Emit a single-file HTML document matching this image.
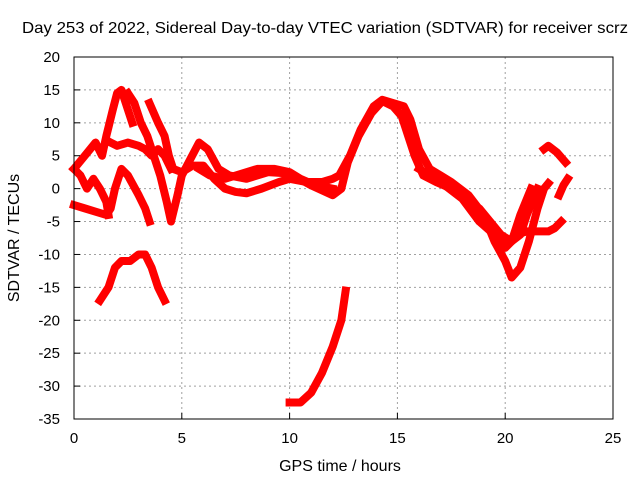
<!DOCTYPE html>
<html><head><meta charset="utf-8"><style>
body{margin:0;background:#fff;}
svg{display:block;font-family:"Liberation Sans",sans-serif;}
</style></head><body>
<svg id="chart" width="640" height="480" viewBox="0 0 640 480">
<text x="325" y="33" text-anchor="middle" font-size="16" textLength="606" lengthAdjust="spacingAndGlyphs">Day 253 of 2022, Sidereal Day-to-day VTEC variation (SDTVAR) for receiver scrz</text>
<text x="340" y="471" text-anchor="middle" font-size="16">GPS time / hours</text>
<text transform="translate(19,238) rotate(-90)" text-anchor="middle" font-size="16">SDTVAR / TECUs</text>
<g id="grid"></g>
<g id="series"></g>
<g id="axes"></g>
</svg>
<script>
const xTicks=[0,5,10,15,20,25];
const yTicks=[20,15,10,5,0,-5,-10,-15,-20,-25,-30,-35];
const s1=[[0,3],[0.5,5],[1,7],[1.3,5],[1.5,8],[1.8,12],[2.0,14.5],[2.2,15],[2.5,12],[2.7,10]];
const s2=[[2.5,14.5],[2.8,13],[3.1,10],[3.4,8],[3.7,5],[4.0,2],[4.3,-2],[4.5,-5],[4.8,-1],[5,2],[5.4,4.5],[5.8,7],[6.2,6],[6.7,3],[7.2,2],[8,1.5],[9,2.5],[10,2.3],[11,0.5],[12,-1],[12.4,0],[12.7,4],[13.2,8],[13.8,11.5],[14.3,13.3],[14.8,12.5],[15.2,11],[15.5,8],[15.8,5],[16.2,2],[16.8,1],[17.5,0],[18.2,-2],[18.8,-3],[19.3,-5],[19.8,-7],[20.3,-8],[20.7,-7],[21,-4],[21.5,0]];
const s3=[[3.5,13],[3.9,10],[4.2,8],[4.4,5],[4.6,3],[5,2.5],[5.5,3.5],[6,3.5],[6.5,1.5],[7,0],[7.5,-0.5],[8,-0.7],[8.7,0],[9.5,1],[10,1.5],[10.8,1],[11.5,1],[12,1.5],[12.3,2],[12.8,5],[13.3,9],[13.9,12.5],[14.3,13.5],[14.8,13],[15.3,12.5],[15.6,10.5],[16,6],[16.5,3],[17,2],[17.5,1],[18.3,-1],[19,-4],[19.5,-8],[20,-11],[20.3,-13.5],[20.7,-12],[21.1,-8],[21.5,-3],[21.8,0],[22,0.8]];
const s4=[[0,-2.5],[0.5,-3],[1,-3.5],[1.5,-4],[1.7,-3],[1.9,0],[2.2,3],[2.5,2],[3,-1],[3.3,-3],[3.5,-5]];
const s5=[[0,3],[0.3,2],[0.6,0],[0.9,1.5],[1.2,0],[1.5,-2],[1.6,-4]];
const s6=[[1.7,7],[2,6.5],[2.5,7],[3,6.5],[3.3,6],[3.6,5],[3.9,6],[4.2,5],[4.5,3]];
const s7=[[1.2,-17],[1.6,-15],[1.9,-12],[2.2,-11],[2.6,-11],[3,-10],[3.3,-10],[3.6,-12],[3.9,-15],[4.2,-17]];
const s8=[[10,-32.5],[10.5,-32.5],[11,-31],[11.5,-28],[12,-24],[12.4,-20],[12.6,-15.5]];
const s9=[[21.8,6],[22,6.5],[22.4,5.5],[22.8,4]];
const s10=[[22.5,-1],[22.7,0.5],[22.9,1.5]];
const s11=[[20.5,-7],[21,-6.5],[21.5,-6.5],[22,-6.5],[22.3,-6],[22.6,-5]];
const s12=[[5.8,3],[6.3,2],[7,1.5],[8,2.5],[8.5,3],[9.3,3],[10,2.5],[10.5,1.5],[11.2,0.5],[12,0]];
const s13=[[16,3],[16.5,2],[17.2,0.5],[18,-1.5],[18.8,-5],[19.5,-7],[20,-9],[20.3,-8],[20.7,-4],[21.2,0]];
const allSeries=[s1,s2,s3,s4,s5,s6,s7,s8,s9,s10,s11,s12,s13];

const L=74,R=613,T=57,B=419,xMin=0,xMax=25,yMin=-35,yMax=20;
const X=v=>L+(v-xMin)/(xMax-xMin)*(R-L);
const Y=v=>B-(v-yMin)/(yMax-yMin)*(B-T);
const NS="http://www.w3.org/2000/svg";
const mk=(t,a,p)=>{const e=document.createElementNS(NS,t);for(const k in a)e.setAttribute(k,a[k]);p.appendChild(e);return e;};
const grid=document.getElementById('grid'),axes=document.getElementById('axes'),ser=document.getElementById('series');
xTicks.forEach(v=>{
  if(v>xMin&&v<xMax){const g=mk('line',{x1:X(v),x2:X(v),y1:T,y2:B,stroke:'#a0a0a0','stroke-dasharray':'2,3'},grid);
  
  }
  const tk=mk('line',{x1:X(v),x2:X(v),y1:B,y2:B-6,stroke:'#000'},axes);
  
  
  const t=mk('text',{x:X(v),y:B+24,'text-anchor':'middle','font-size':'15'},axes);t.textContent=v;
  
  
});
yTicks.forEach(v=>{
  if(v>yMin&&v<yMax){const g=mk('line',{x1:L,x2:R,y1:Y(v),y2:Y(v),stroke:'#a0a0a0','stroke-dasharray':'2,3'},grid);
  
  }
  const tk=mk('line',{x1:L,x2:L+6,y1:Y(v),y2:Y(v),stroke:'#000'},axes);
  
  
  const t=mk('text',{x:L-14,y:Y(v)+5,'text-anchor':'end','font-size':'15'},axes);t.textContent=v;
  
  
});
const box=mk('rect',{x:L,y:T,width:R-L,height:B-T,fill:'none',stroke:'#000'},axes);


allSeries.forEach(s=>{
  const p=mk('polyline',{points:s.map(d=>X(d[0])+','+Y(d[1])).join(' '),fill:'none',stroke:'#ff0000','stroke-width':'8','stroke-linejoin':'round','stroke-linecap':'square'},ser);
  
  
});
</script>
</body></html>
